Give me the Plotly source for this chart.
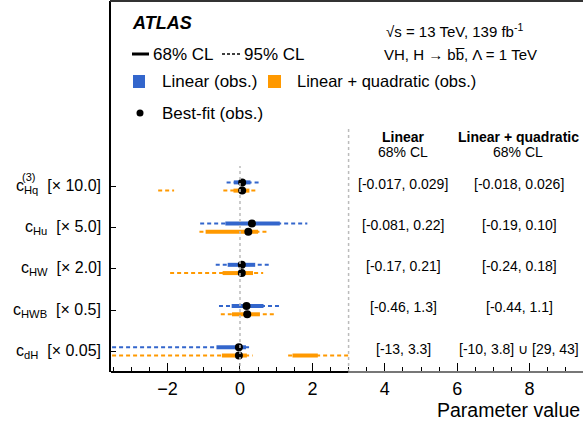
import plotly.graph_objects as go

# ---------------- data ----------------
param_labels = ["c<sub>Hq</sub>", "c<sub>Hu</sub>", "c<sub>HW</sub>", "c<sub>HWB</sub>", "c<sub>dH</sub>"]
param_sup = ["(3)", "", "", "", ""]
scale_labels = ["[× 10.0]", "[× 5.0]", "[× 2.0]", "[× 0.5]", "[× 0.05]"]
scales = [10.0, 5.0, 2.0, 0.5, 0.05]
row_pos = [5, 4, 3, 2, 1]

# 68% CL intervals (unscaled, as in the table)
lin68 = [[(-0.017, 0.029)], [(-0.081, 0.22)], [(-0.17, 0.21)], [(-0.46, 1.3)], [(-13, 3.3)]]
quad68 = [[(-0.018, 0.026)], [(-0.19, 0.10)], [(-0.24, 0.18)], [(-0.44, 1.1)], [(-10, 3.8), (29, 43)]]
lin68_text = ["[-0.017, 0.029]", "[-0.081, 0.22]", "[-0.17, 0.21]", "[-0.46, 1.3]", "[-13, 3.3]"]
quad68_text = ["[-0.018, 0.026]", "[-0.19, 0.10]", "[-0.24, 0.18]", "[-0.44, 1.1]", "[-10, 3.8] ∪ [29, 43]"]

# 95% CL intervals (already scaled)
lin95 = [[(-0.37, 0.55)], [(-1.10, 1.86)], [(-0.67, 0.85)], [(-0.58, 1.12)], [(-4.5, 0.28)]]
quad95 = [[(-2.26, -1.82), (-0.46, 0.46)], [(-1.12, 0.75)], [(-1.93, 0.64)], [(-0.53, 0.97)],
          [(-4.5, 0.35), (1.33, 3.0)]]

# best-fit values (scaled)
lin_best = [0.06, 0.33, 0.05, 0.18, -0.03]
quad_best = [0.06, 0.23, 0.05, 0.20, -0.03]

BLUE = "#3366CC"
ORANGE = "#FF9900"
FONT = "Liberation Sans, Arial, sans-serif"

W, H = 583, 421
ML, MT, MB = 111, 1, 49
PW, PH = W - ML, H - MT - MB
XR = [-3.563, 9.475]
YR = [0.5, 9.5]
OFF_L, OFF_Q = 0.1, -0.1


def px(xp):
    return (xp - ML) / PW


def py(yp):
    return (MT + PH - yp) / PH


def segs(intervals, off, scaled):
    xs, ys = [], []
    for i, ivs in enumerate(intervals):
        s = scales[i] if scaled else 1.0
        for lo, hi in ivs:
            xs += [lo * s, hi * s, None]
            ys += [row_pos[i] + off, row_pos[i] + off, None]
    return xs, ys


fig = go.Figure()
for ivs, off, col in [(lin95, OFF_L, BLUE), (quad95, OFF_Q, ORANGE)]:
    x, y = segs(ivs, off, False)
    fig.add_trace(go.Scatter(x=x, y=y, mode="lines", line=dict(color=col, width=2, dash="4px,3px"),
                             hoverinfo="skip", showlegend=False))
for ivs, off, col in [(lin68, OFF_L, BLUE), (quad68, OFF_Q, ORANGE)]:
    x, y = segs(ivs, off, True)
    fig.add_trace(go.Scatter(x=x, y=y, mode="lines", line=dict(color=col, width=4),
                             hoverinfo="skip", showlegend=False))
for best, off in [(lin_best, OFF_L), (quad_best, OFF_Q)]:
    fig.add_trace(go.Scatter(x=best, y=[r + off for r in row_pos], mode="markers",
                             marker=dict(color="black", size=8), showlegend=False))

shapes = []
# vertical dashed reference lines
shapes.append(dict(type="line", xref="x", yref="y", x0=0, x1=0, y0=0.5, y1=5.5,
                   line=dict(color="#BBBBBB", width=1.5, dash="3px,3px")))
shapes.append(dict(type="line", xref="x", yref="y", x0=3, x1=3, y0=0.5, y1=6.4,
                   line=dict(color="#BBBBBB", width=1.5, dash="3px,3px")))
# bottom axis line (black left part, grey right part) and top frame line
shapes.append(dict(type="line", xref="x", yref="paper", x0=XR[0], x1=3, y0=0, y1=0,
                   line=dict(color="black", width=2)))
shapes.append(dict(type="line", xref="x", yref="paper", x0=3, x1=XR[1], y0=0, y1=0,
                   line=dict(color="#777777", width=2)))
shapes.append(dict(type="line", xref="paper", yref="paper", x0=px(110), x1=1, y0=1, y1=1,
                   line=dict(color="#333333", width=2)))
# legend glyphs
shapes.append(dict(type="line", xref="paper", yref="paper", x0=px(132), x1=px(149), y0=py(54), y1=py(54),
                   line=dict(color="black", width=3)))
shapes.append(dict(type="line", xref="paper", yref="paper", x0=px(222), x1=px(240), y0=py(54), y1=py(54),
                   line=dict(color="black", width=1.5, dash="3px,2px")))
shapes.append(dict(type="rect", xref="paper", yref="paper", x0=px(133), x1=px(145), y0=py(88), y1=py(75),
                   fillcolor=BLUE, line=dict(width=0)))
shapes.append(dict(type="rect", xref="paper", yref="paper", x0=px(268), x1=px(281), y0=py(88), y1=py(75),
                   fillcolor=ORANGE, line=dict(width=0)))
shapes.append(dict(type="circle", xref="paper", yref="paper", x0=px(136.5), x1=px(143.5), y0=py(116.5),
                   y1=py(109.5), fillcolor="black", line=dict(width=0)))

ann = []


def text(x, y, t, size, anchor="left", **kw):
    ann.append(dict(xref="paper", yref="paper", x=px(x), y=py(y), text=t, showarrow=False,
                    xanchor=anchor, yanchor="middle", font=dict(family=FONT, size=size, color="black"), **kw))


text(130, 23, "<b><i>ATLAS</i></b>", 18)
text(151, 54, "68% CL", 17)
text(242, 54, "95% CL", 17)
text(160, 81, "Linear (obs.)", 17)
text(295, 81, "Linear + quadratic (obs.)", 16.5)
text(160, 113, "Best-fit (obs.)", 17)
text(384, 31, "√s = 13 TeV, 139 fb<sup>-1</sup>", 15)
text(382, 54, "VH, H → bb\u0305, Λ = 1 TeV", 15)
text(403, 137, "<b>Linear</b>", 14, "center")
text(403, 152, "68% CL", 14, "center")
text(518, 137, "<b>Linear + quadratic</b>", 14, "center")
text(518, 152, "68% CL", 14, "center")
text(435, 410, "Parameter value", 19.5)

for i in range(len(row_pos)):
    ann.append(dict(xref="paper", yref="y", x=0, y=row_pos[i], xshift=-8,
                    text=param_labels[i] + "  " + scale_labels[i], showarrow=False, xanchor="right",
                    yanchor="middle", font=dict(family=FONT, size=16, color="black")))
    if param_sup[i]:
        ann.append(dict(xref="paper", yref="y", x=px(28), y=row_pos[i] + 0.22, text=param_sup[i],
                        showarrow=False, xanchor="center", yanchor="middle",
                        font=dict(family=FONT, size=11, color="black")))
    ann.append(dict(xref="paper", yref="y", x=px(403), y=row_pos[i] + 0.07, text=lin68_text[i],
                    showarrow=False, xanchor="center", yanchor="middle",
                    font=dict(family=FONT, size=14, color="black")))
    ann.append(dict(xref="paper", yref="y", x=px(519), y=row_pos[i] + 0.07, text=quad68_text[i],
                    showarrow=False, xanchor="center", yanchor="middle",
                    font=dict(family=FONT, size=14, color="black")))

fig.update_layout(
    width=W, height=H,
    margin=dict(l=ML, r=0, t=MT, b=MB, pad=0),
    plot_bgcolor="white", paper_bgcolor="white",
    font=dict(family=FONT, color="black"),
    shapes=shapes, annotations=ann, showlegend=False,
    xaxis=dict(range=XR, showgrid=False, zeroline=False, showline=False,
               tick0=0, dtick=2, ticks="inside", ticklen=9, tickwidth=1, tickcolor="black",
               minor=dict(dtick=0.5, tick0=0, ticks="inside", ticklen=5, tickcolor="black", tickwidth=1),
               tickfont=dict(family=FONT, size=18, color="black"), ticklabelstandoff=4),
    yaxis=dict(range=YR, showgrid=False, zeroline=False, showline=True, linewidth=2, linecolor="black",
               tickvals=row_pos, ticks="inside", ticklen=5, tickcolor="black", showticklabels=False),
)

fig.write_html("out.html", config={"displayModeBar": False},
               post_script="document.body.style.margin='0px';document.body.style.padding='0px';")
